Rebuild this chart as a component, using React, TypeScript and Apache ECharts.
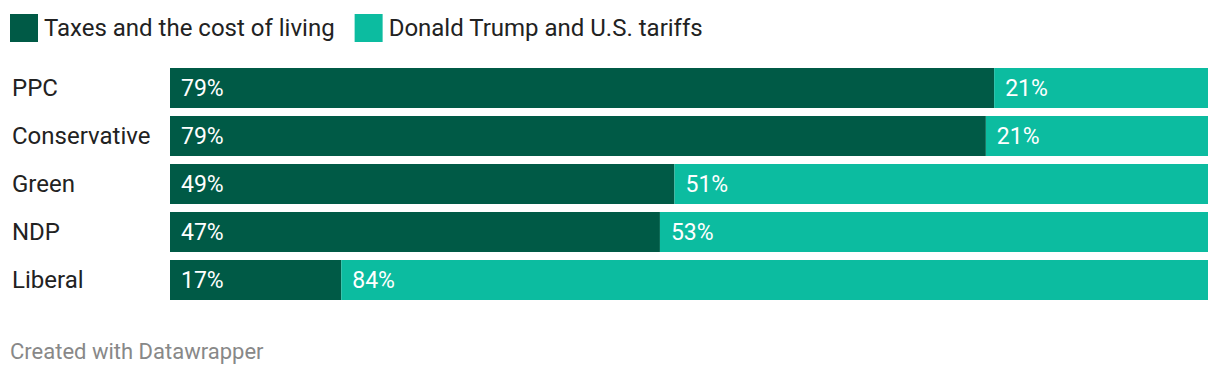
import React, { useEffect, useRef } from "react";
import * as echarts from "echarts";

const categories = ["PPC", "Conservative", "Green", "NDP", "Liberal"];
const taxesCost = [79.4, 78.6, 48.6, 47.2, 16.5];
const trumpTariffs = [20.6, 21.4, 51.4, 52.8, 83.5];
const seriesNames = ["Taxes and the cost of living", "Donald Trump and U.S. tariffs"];
const colors = ["#005a46", "#0cbca0"];
const footer = "Created with Datawrapper";

export default function App() {
  const ref = useRef<HTMLDivElement>(null);
  useEffect(() => {
    document.body.style.margin = "0";
    const chart = echarts.init(ref.current!, null, { renderer: "svg" });
    const font = "Roboto, 'Noto Sans', sans-serif";
    const label = {
      show: true,
      position: "insideLeft" as const,
      distance: 11,
      color: "#ffffff",
      fontSize: 23,
      fontWeight: 400,
      fontFamily: font,
      formatter: (p: any) => Math.round(p.value) + "%",
    };
    chart.setOption({
      animation: false,
      textStyle: { fontFamily: font },
      legend: {
        left: 10,
        top: 14,
        padding: 0,
        icon: "rect",
        itemWidth: 28,
        itemHeight: 28,
        itemGap: 20,
        textStyle: { fontSize: 24, color: "#222222", fontFamily: font, padding: [0, 0, 0, 1] },
        data: seriesNames,
      },
      grid: { left: 170, right: 12, top: 64, height: 240, containLabel: false },
      xAxis: {
        type: "value",
        min: 0,
        max: 100,
        show: false,
      },
      yAxis: {
        type: "category",
        data: categories,
        inverse: true,
        axisLine: { show: false },
        axisTick: { show: false },
        axisLabel: {
          align: "left",
          margin: 158,
          fontSize: 24,
          color: "#222222",
          fontFamily: font,
        },
      },
      series: [
        {
          name: seriesNames[0],
          type: "bar",
          stack: "total",
          data: taxesCost,
          barCategoryGap: "16.67%",
          itemStyle: { color: colors[0] },
          label,
        },
        {
          name: seriesNames[1],
          type: "bar",
          stack: "total",
          data: trumpTariffs,
          barCategoryGap: "16.67%",
          itemStyle: { color: colors[1] },
          label,
        },
      ],
      graphic: [
        {
          type: "text",
          left: 10,
          top: 340,
          style: {
            text: footer,
            fontSize: 22,
            fill: "#888888",
            fontFamily: font,
          },
        },
      ],
    });
    return () => chart.dispose();
  }, []);
  return <div ref={ref} style={{ width: 1220, height: 378 }} />;
}
